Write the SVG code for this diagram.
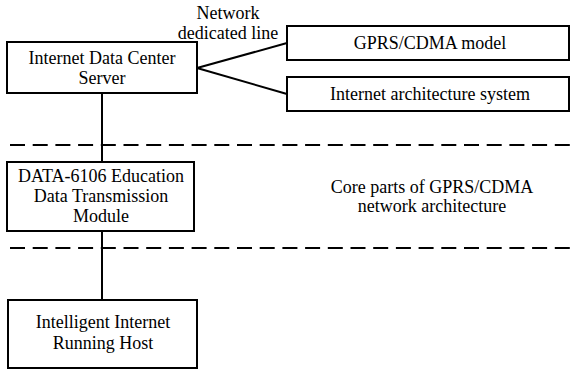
<svg xmlns="http://www.w3.org/2000/svg" width="570" height="370" viewBox="0 0 570 370">
<style>
.t{font-family:'Liberation Serif','Times New Roman','DejaVu Serif',serif;font-size:18px;fill:#000;text-anchor:middle}
.box{fill:#fff;stroke:#000;stroke-width:2}
.ln{stroke:#000;stroke-width:2;fill:none}
.dash{stroke:#000;stroke-width:2;stroke-dasharray:15 7.7;fill:none}
</style>
<rect width="570" height="370" fill="#fff"/>
<g id="connectors">
<line class="ln" x1="102" y1="93" x2="102" y2="300"/>
<line class="ln" x1="197" y1="68" x2="287" y2="43"/>
<line class="ln" x1="197" y1="68" x2="287" y2="94"/>
</g>
<g id="separators">
<line class="dash" x1="10" y1="145" x2="570" y2="145"/>
<line class="dash" x1="10" y1="248" x2="570" y2="248"/>
</g>
<g id="label-network">
<text class="t" x="228" y="19">Network</text>
<text class="t" x="228" y="39">dedicated line</text>
</g>
<g id="server">
<rect class="box" x="7" y="42" width="190" height="51"/>
<text class="t" x="102" y="64">Internet Data Center</text>
<text class="t" x="102" y="84">Server</text>
</g>
<g id="gprs">
<rect class="box" x="287" y="26" width="282" height="34"/>
<text class="t" x="430" y="49">GPRS/CDMA model</text>
</g>
<g id="internet-arch">
<rect class="box" x="287" y="77" width="282" height="34"/>
<text class="t" x="430" y="100">Internet architecture system</text>
</g>
<g id="module">
<rect class="box" x="7" y="162" width="187" height="69"/>
<text class="t" x="101" y="182">DATA-6106 Education</text>
<text class="t" x="101" y="202">Data Transmission</text>
<text class="t" x="101" y="222">Module</text>
</g>
<g id="core-label">
<text class="t" x="432" y="193">Core parts of GPRS/CDMA</text>
<text class="t" x="432" y="212">network architecture</text>
</g>
<g id="host">
<rect class="box" x="8" y="300" width="189" height="68"/>
<text class="t" x="103" y="328">Intelligent Internet</text>
<text class="t" x="103" y="349">Running Host</text>
</g>
</svg>
